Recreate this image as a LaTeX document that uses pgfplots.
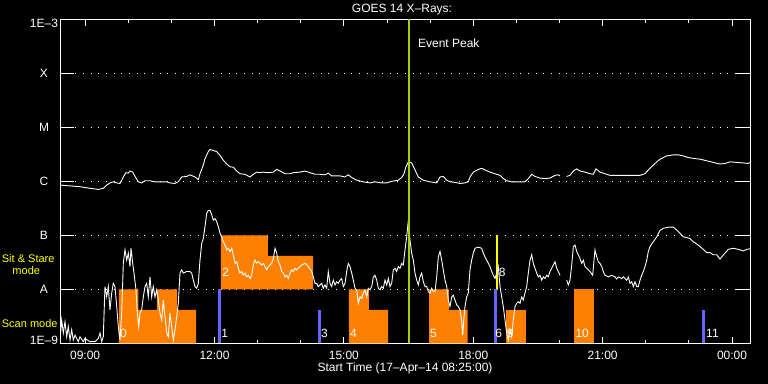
\documentclass[border=0pt]{standalone}
\usepackage{fontspec}
\setmainfont{Liberation Sans}
\usepackage{pgfplots}
\usepackage{pgfplotstable}
\pgfplotsset{compat=1.18}
\definecolor{scanorange}{RGB}{255,128,0}
\definecolor{scanblue}{RGB}{100,100,255}
\definecolor{ssyellow}{RGB}{255,255,0}
\definecolor{peakgreen}{RGB}{165,205,20}
\newcommand\fs{\fontsize{12bp}{14bp}\selectfont}
\newcommand\fss{\fontsize{11bp}{13bp}\selectfont}

% hours since 08:25 UT, log10 flux (W/m^2)
\pgfplotstableread{
X Y
0.000 -6.07
0.464 -6.10
0.696 -6.13
0.888 -6.15
1.004 -6.13
1.083 -6.07
1.159 -6.03
1.236 -6.01
1.315 -6.03
1.391 -6.04
1.468 -5.92
1.530 -5.84
1.584 -5.85
1.623 -5.81
1.686 -5.83
1.739 -5.91
1.816 -6.01
1.894 -6.03
1.971 -5.99
2.087 -5.99
2.203 -6.01
2.319 -6.01
2.474 -6.01
2.551 -6.03
2.667 -6.04
2.743 -6.01
2.822 -5.92
2.938 -5.91
3.014 -5.88
3.130 -5.92
3.207 -5.97
3.246 -5.86
3.323 -5.70
3.362 -5.58
3.439 -5.45
3.478 -5.41
3.555 -5.43
3.634 -5.45
3.710 -5.52
3.787 -5.61
3.866 -5.68
3.942 -5.73
4.019 -5.74
4.097 -5.81
4.174 -5.86
4.290 -5.87
4.406 -5.92
4.482 -5.87
4.561 -5.83
4.638 -5.84
4.714 -5.83
4.830 -5.84
4.946 -5.83
5.025 -5.78
5.101 -5.81
5.217 -5.86
5.333 -5.86
5.410 -5.84
5.565 -5.83
5.681 -5.81
5.797 -5.84
5.913 -5.87
6.029 -5.87
6.145 -5.88
6.222 -5.85
6.300 -5.90
6.493 -5.90
6.609 -5.92
6.685 -5.88
6.764 -5.93
6.880 -5.98
7.033 -6.01
7.188 -6.03
7.304 -6.01
7.459 -6.03
7.575 -6.03
7.692 -6.00
7.845 -5.98
7.923 -5.93
7.977 -5.86
8.023 -5.73
8.077 -5.64
8.155 -5.66
8.232 -5.79
8.309 -5.92
8.424 -5.98
8.580 -6.01
8.735 -6.03
8.812 -5.92
8.888 -5.91
8.967 -5.98
9.043 -6.01
9.159 -6.02
9.275 -6.04
9.391 -6.03
9.468 -6.01
9.507 -5.92
9.584 -5.83
9.700 -5.78
9.778 -5.76
9.855 -5.79
9.971 -5.83
10.087 -5.86
10.203 -5.89
10.279 -5.95
10.358 -5.99
10.474 -6.01
10.783 -6.01
10.859 -5.95
10.938 -5.87
11.014 -5.91
11.130 -5.94
11.246 -5.95
11.362 -5.94
11.478 -5.89
11.555 -5.88
11.594 -5.90
11.670 nan
11.750 -5.91
11.826 -5.89
11.903 -5.81
11.981 -5.77
12.058 -5.81
12.174 -5.83
12.290 -5.86
12.367 -5.87
12.429 -5.77
12.522 -5.83
12.638 -5.86
12.754 -5.89
13.449 -5.89
13.565 -5.86
13.642 -5.79
13.757 -5.70
13.913 -5.59
14.068 -5.53
14.221 -5.51
14.337 -5.51
14.453 -5.53
14.569 -5.56
14.725 -5.58
14.841 -5.59
14.996 -5.62
15.149 -5.65
15.304 -5.68
15.420 -5.67
15.536 -5.64
15.691 -5.65
15.844 -5.66
15.960 -5.67
16.000 -5.65
}\longchan

\pgfplotstableread{
X Y
0.000 -8.94
0.039 -8.57
0.077 -8.81
0.116 -8.60
0.155 -8.88
0.192 -8.69
0.232 -8.94
0.271 -8.75
0.308 -8.94
0.348 -8.85
0.424 -8.97
0.464 -8.88
0.540 -8.97
0.580 -8.91
0.696 -8.97
0.812 -8.97
0.888 -8.91
0.928 -8.81
0.967 -8.97
1.004 -8.88
1.043 -7.95
1.083 -8.14
1.120 -7.95
1.159 -8.38
1.199 -8.07
1.236 -7.89
1.275 -7.95
1.315 -8.32
1.352 -8.69
1.391 -8.94
1.431 -8.44
1.468 -7.52
1.507 -7.27
1.547 -7.46
1.584 -7.33
1.623 -7.58
1.646 -7.24
1.686 -7.52
1.716 -7.70
1.762 -8.01
1.792 -8.44
1.825 -8.69
1.855 -8.44
1.894 -8.38
1.932 -8.14
1.971 -7.95
2.010 -7.89
2.047 -8.14
2.087 -7.77
2.126 -8.14
2.163 -7.95
2.203 -8.14
2.242 -8.01
2.279 -8.20
2.319 -8.44
2.358 -8.57
2.395 -8.20
2.435 -8.51
2.474 -8.81
2.511 -8.88
2.551 -8.44
2.590 -8.69
2.627 -8.94
2.667 -8.75
2.706 -8.51
2.743 -8.26
2.783 -7.70
2.822 -7.64
2.859 -7.70
2.938 -7.67
3.014 -7.67
3.054 -7.70
3.091 -7.83
3.130 -7.95
3.169 -7.98
3.207 -7.89
3.246 -7.46
3.286 -7.15
3.323 -7.06
3.362 -6.84
3.402 -6.59
3.439 -6.54
3.478 -6.54
3.518 -6.62
3.555 -6.72
3.594 -6.69
3.634 -6.75
3.671 -6.84
3.710 -6.96
3.749 -7.03
3.787 -7.12
3.826 -7.18
3.865 -7.27
3.903 -7.24
3.942 -7.30
3.981 -7.24
4.019 -7.36
4.058 -7.52
4.097 -7.49
4.134 -7.61
4.174 -7.70
4.213 -7.67
4.250 -7.74
4.290 -7.70
4.329 -7.77
4.366 -7.74
4.406 -7.80
4.445 -7.74
4.482 -7.55
4.522 -7.46
4.561 -7.52
4.598 -7.49
4.638 -7.52
4.677 -7.55
4.714 -7.52
4.754 -7.58
4.793 -7.64
4.830 -7.58
4.870 -7.55
4.909 -7.52
4.946 -7.43
4.986 -7.24
5.025 -7.33
5.062 -7.49
5.101 -7.55
5.141 -7.67
5.178 -7.70
5.217 -7.77
5.257 -7.74
5.294 -7.80
5.333 -7.70
5.373 -7.64
5.410 -7.67
5.449 -7.61
5.489 -7.64
5.526 -7.61
5.604 -7.55
5.681 -7.52
5.758 -7.58
5.836 -7.67
5.873 -7.77
5.913 -7.89
5.952 -7.89
5.989 -7.95
6.029 -7.92
6.068 -7.89
6.105 -7.98
6.145 -7.92
6.184 -7.98
6.221 -7.67
6.261 -7.89
6.300 -7.95
6.337 -7.83
6.377 -7.92
6.416 -7.86
6.453 -7.89
6.493 -7.83
6.532 -7.80
6.569 -7.95
6.609 -7.89
6.648 -7.67
6.685 -7.52
6.725 -7.58
6.764 -7.70
6.801 -7.83
6.841 -7.98
6.880 -8.01
6.917 -8.26
6.957 -8.14
6.996 -8.17
7.033 -8.07
7.072 -8.01
7.112 -8.14
7.149 -7.98
7.188 -8.01
7.228 -7.95
7.265 -7.77
7.304 -7.74
7.344 -7.83
7.381 -7.98
7.420 -8.01
7.459 -7.95
7.497 -7.98
7.536 -7.83
7.575 -7.92
7.613 -7.80
7.652 -7.95
7.691 -7.89
7.729 -7.64
7.768 -7.61
7.807 -7.67
7.845 -7.58
7.884 -7.61
7.923 -7.52
7.961 -7.55
8.000 -7.27
8.039 -7.03
8.070 -6.78
8.093 -6.87
8.116 -7.09
8.155 -7.33
8.193 -7.46
8.232 -7.70
8.271 -7.83
8.309 -7.92
8.348 -7.77
8.387 -7.70
8.424 -7.86
8.464 -7.95
8.503 -7.95
8.540 -8.04
8.580 -8.07
8.619 -7.98
8.656 -8.04
8.696 -8.04
8.735 -7.77
8.772 -7.40
8.812 -7.30
8.851 -7.46
8.888 -7.64
8.928 -7.83
8.967 -7.95
9.004 -8.20
9.043 -8.32
9.083 -8.14
9.120 -8.11
9.159 -8.20
9.199 -8.29
9.236 -8.32
9.275 -8.38
9.315 -8.60
9.338 -8.85
9.368 -8.51
9.391 -8.32
9.430 -8.14
9.467 -8.07
9.507 -7.64
9.546 -7.46
9.584 -7.33
9.623 -7.24
9.700 -7.22
9.778 -7.24
9.816 -7.33
9.855 -7.40
9.894 -7.46
9.932 -7.52
9.971 -7.58
10.010 -7.67
10.048 -7.74
10.087 -7.80
10.126 -7.70
10.163 -7.58
10.203 -7.95
10.242 -8.14
10.279 -8.32
10.319 -8.57
10.358 -8.81
10.395 -8.94
10.435 -8.75
10.474 -8.88
10.511 -8.57
10.551 -8.32
10.590 -8.26
10.627 -8.23
10.667 -8.26
10.706 -8.14
10.743 -8.20
10.783 -8.07
10.822 -7.95
10.859 -7.70
10.899 -7.46
10.938 -7.36
10.975 -7.52
11.014 -7.61
11.054 -7.70
11.091 -7.77
11.130 -7.74
11.170 -7.83
11.207 -7.77
11.246 -7.80
11.286 -7.74
11.323 -7.77
11.362 -7.67
11.402 -7.61
11.439 -7.55
11.478 -7.49
11.518 -7.61
11.555 -7.67
11.594 -7.74
11.670 nan
11.750 -7.83
11.787 -7.92
11.826 -7.83
11.866 -7.55
11.903 -7.21
11.942 -7.18
11.982 -7.30
12.019 -7.36
12.058 -7.43
12.097 -7.52
12.135 -7.46
12.174 -7.58
12.213 -7.61
12.290 -7.67
12.352 -7.74
12.383 -7.46
12.406 -7.27
12.445 -7.40
12.483 -7.49
12.522 -7.52
12.561 -7.58
12.598 -7.67
12.638 -7.74
12.714 -7.77
12.793 -7.74
12.870 -7.77
12.909 -7.81
12.946 -7.77
13.025 -7.80
13.062 -7.77
13.141 -7.83
13.178 -7.77
13.217 -7.89
13.257 -7.86
13.294 -7.95
13.333 -7.86
13.373 -7.95
13.410 -7.95
13.449 -7.83
13.489 -7.74
13.526 -7.67
13.565 -7.58
13.605 -7.46
13.642 -7.30
13.681 -7.21
13.757 -7.12
13.836 -7.03
13.913 -6.91
13.990 -6.87
14.106 -6.85
14.221 -6.85
14.300 -6.90
14.377 -6.96
14.453 -7.03
14.530 -7.04
14.609 -7.06
14.685 -7.12
14.764 -7.16
14.841 -7.21
14.917 -7.26
14.996 -7.32
15.072 -7.32
15.149 -7.36
15.228 -7.36
15.265 -7.40
15.304 -7.44
15.344 -7.40
15.420 -7.33
15.497 -7.26
15.613 -7.24
15.729 -7.26
15.845 -7.29
15.923 -7.26
16.000 -7.25
}\shortchan

\begin{document}
\begin{tikzpicture}
\fill[black] (0,0) rectangle (768bp,384bp);
\begin{axis}[
  at={(60bp,40.7bp)}, anchor=south west,
  scale only axis, width=690bp, height=324bp,
  xmin=0, xmax=16, ymin=-9, ymax=-3,
  axis line style={white, line width=1bp},
  tick align=inside,
  major tick length=6.5bp, minor tick length=3.5bp,
  tick style={white, line width=1bp},
  xtick={0.5833,3.5833,6.5833,9.5833,12.5833,15.5833},
  xticklabels={09:00,12:00,15:00,18:00,21:00,00:00},
  minor xtick={1.5833,2.5833,4.5833,5.5833,7.5833,8.5833,10.5833,11.5833,13.5833,14.5833},
  xtick pos=both, xticklabel pos=lower,
  ytick={-8,-7,-6,-5,-4}, yticklabels={A,B,C,M,X},
  ytick style={draw=none},
  ymajorgrids,
  major grid style={white, line width=1bp, dash pattern=on 1bp off 6.67bp},
  tick label style={white, font=\fs},
  yticklabel style={anchor=center, xshift=-16bp},
  xticklabel style={yshift=-4bp},
  unbounded coords=jump,
]
% scan mode blocks (orange) and sit & stare block
\addplot[fill=scanorange, draw=none] coordinates {(1.368,-9) (1.368,-8) (1.820,-8) (1.820,-8.38) (2.249,-8.38) (2.249,-8) (2.713,-8) (2.713,-8.38) (3.154,-8.38) (3.154,-9)} -- cycle;
\addplot[fill=scanorange, draw=none] coordinates {(3.733,-8) (3.733,-7) (4.823,-7) (4.823,-7.38) (5.867,-7.38) (5.867,-8)} -- cycle;
\addplot[fill=scanorange, draw=none] coordinates {(6.701,-9) (6.701,-8) (7.165,-8) (7.165,-8.38) (7.606,-8.38) (7.606,-9)} -- cycle;
\addplot[fill=scanorange, draw=none] coordinates {(8.557,-9) (8.557,-8) (9.020,-8) (9.020,-8.38) (9.454,-8.38) (9.454,-9)} -- cycle;
\addplot[fill=scanorange, draw=none] coordinates {(10.342,-9) (10.342,-8.38) (10.806,-8.38) (10.806,-9)} -- cycle;
\addplot[fill=scanorange, draw=none] coordinates {(11.919,-9) (11.919,-8) (12.383,-8) (12.383,-9)} -- cycle;
% blue / yellow bars
\addplot[fill=scanblue, draw=none] coordinates {(3.657,-9) (3.657,-8) (3.733,-8) (3.733,-9)} -- cycle;
\addplot[fill=scanblue, draw=none] coordinates {(5.990,-9) (5.990,-8.38) (6.045,-8.38) (6.045,-9)} -- cycle;
\addplot[fill=scanblue, draw=none] coordinates {(10.057,-9) (10.057,-8) (10.126,-8) (10.126,-9)} -- cycle;
\addplot[fill=ssyellow, draw=none] coordinates {(10.110,-8) (10.110,-7) (10.165,-7) (10.165,-8)} -- cycle;
\addplot[fill=scanblue, draw=none] coordinates {(14.887,-9) (14.887,-8.38) (14.957,-8.38) (14.957,-9)} -- cycle;
% GOES curves
\addplot[white, line width=0.9bp] table[x=X, y=Y] {\longchan};
\addplot[white, line width=0.9bp] table[x=X, y=Y] {\shortchan};
% event peak
\addplot[peakgreen, line width=2bp] coordinates {(8.086,-9) (8.086,-3)};
% y ticks (long, both sides)
\draw[white, line width=1bp] (axis cs:0,-8) -- ++(14bp,0pt);
\draw[white, line width=1bp] (axis cs:0,-7) -- ++(14bp,0pt);
\draw[white, line width=1bp] (axis cs:0,-6) -- ++(14bp,0pt);
\draw[white, line width=1bp] (axis cs:0,-5) -- ++(14bp,0pt);
\draw[white, line width=1bp] (axis cs:0,-4) -- ++(14bp,0pt);
\draw[white, line width=1bp] (axis cs:16,-8) -- ++(-14bp,0pt);
\draw[white, line width=1bp] (axis cs:16,-7) -- ++(-14bp,0pt);
\draw[white, line width=1bp] (axis cs:16,-6) -- ++(-14bp,0pt);
\draw[white, line width=1bp] (axis cs:16,-5) -- ++(-14bp,0pt);
\draw[white, line width=1bp] (axis cs:16,-4) -- ++(-14bp,0pt);
% labels
\begin{scope}[every node/.style={white, anchor=west, inner sep=0pt, font=\fs}]
\node at (axis cs:1.39,-8.81) {0};
\node at (axis cs:3.74,-8.81) {1};
\node at (axis cs:3.76,-7.68) {2};
\node at (axis cs:6.05,-8.81) {3};
\node at (axis cs:6.72,-8.81) {4};
\node at (axis cs:8.58,-8.81) {5};
\node at (axis cs:10.09,-8.81) {6};
\node at (axis cs:10.17,-7.68) {8};
\node at (axis cs:10.36,-8.81) {9};
\node at (axis cs:11.95,-8.81) {10};
\node at (axis cs:14.98,-8.81) {11};
\node at (axis cs:8.30,-3.44) {Event Peak};
\end{scope}
\end{axis}
\begin{scope}[every node/.style={white, inner sep=0pt, font=\fs}]
\node at (44bp,44bp) {1E\textendash 9};
\node at (44bp,360.7bp) {1E\textendash 3};
\node at (402bp,374.5bp) {GOES 14 X\textendash Rays:};
\node at (405bp,16bp) {Start Time (17\textendash Apr\textendash 14 08:25:00)};
\node[ssyellow, anchor=west, font=\fss] at (1.7bp,125bp) {Sit \& Stare};
\node[ssyellow, anchor=west, font=\fss] at (12.3bp,113bp) {mode};
\node[ssyellow, anchor=west, font=\fss] at (1.7bp,60bp) {Scan mode};
\end{scope}
\pgfresetboundingbox
\useasboundingbox (0,0) rectangle (768bp,384bp);
\end{tikzpicture}
\end{document}
